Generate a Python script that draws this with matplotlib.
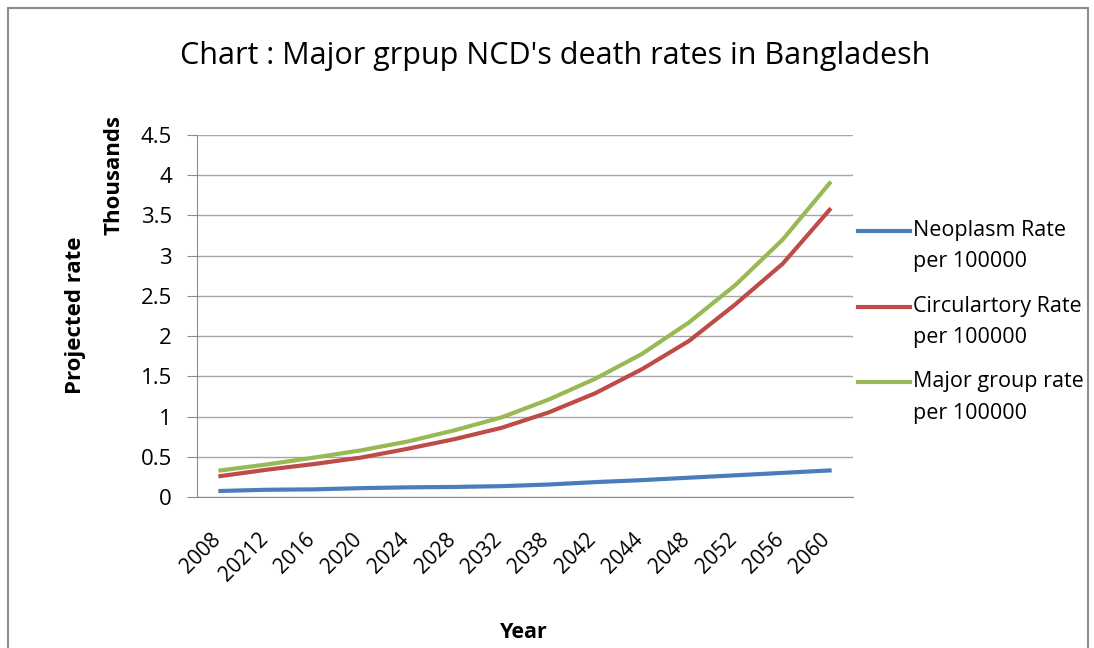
import matplotlib.pyplot as plt
from matplotlib.patches import Rectangle
from matplotlib.lines import Line2D
from matplotlib.transforms import ScaledTranslation

years = ["2008", "20212", "2016", "2020", "2024", "2028", "2032", "2038",
         "2042", "2044", "2048", "2052", "2056", "2060"]
neoplasm = [0.075, 0.09, 0.095, 0.11, 0.12, 0.125, 0.135, 0.155,
            0.185, 0.21, 0.24, 0.27, 0.30, 0.33]
circulatory = [0.26, 0.34, 0.41, 0.49, 0.60, 0.72, 0.86, 1.05,
               1.29, 1.59, 1.94, 2.40, 2.90, 3.57]
major_group = [0.33, 0.405, 0.49, 0.58, 0.69, 0.83, 0.99, 1.21,
               1.47, 1.78, 2.17, 2.64, 3.20, 3.90]
yticks = [0, 0.5, 1, 1.5, 2, 2.5, 3, 3.5, 4, 4.5]
ytick_labels = ["0", "0.5", "1", "1.5", "2", "2.5", "3", "3.5", "4", "4.5"]
series_names = ["Neoplasm Rate\nper 100000", "Circulartory Rate\nper 100000",
                "Major group rate\nper 100000"]
colors = ["#4A7EBB", "#BE4B48", "#98B954"]

plt.rcParams["font.family"] = ["Open Sans", "DejaVu Sans"]

fig = plt.figure(figsize=(10.94, 6.48), dpi=100)
fig.patches.append(Rectangle((8 / 1094, -0.01), 1080 / 1094, 1 - 8 / 648 + 0.01,
                             transform=fig.transFigure, fill=False,
                             edgecolor="#8c8c8c", linewidth=1.5))

ax = fig.add_axes([197 / 1094, 1 - 497 / 648, 656 / 1094, 362 / 648])
x = list(range(len(years)))
for vals, c in zip([neoplasm, circulatory, major_group], colors):
    ax.plot(x, vals, color=c, lw=3)

ax.set_xlim(-0.5, len(years) - 0.5)
ax.set_ylim(0, 4.5)
ax.set_yticks(yticks)
ax.set_yticklabels(ytick_labels, fontsize=16)
ax.set_xticks(x)
ax.set_xticklabels([])
ax.tick_params(axis="x", length=0)
ax.tick_params(axis="y", length=7, color="#8c8c8c", pad=11)
ax.grid(axis="y", color="#a6a6a6", lw=1)
ax.set_axisbelow(True)
for s in ["top", "right"]:
    ax.spines[s].set_visible(False)
for s in ["left", "bottom"]:
    ax.spines[s].set_color("#8c8c8c")

# category labels, top-right corner just under each category
lab_trans = ax.get_xaxis_transform() + ScaledTranslation(0.05, -0.32, fig.dpi_scale_trans)
for xi, lab in zip(x, years):
    ax.text(xi, 0, lab, transform=lab_trans, rotation=45, ha="right", va="top",
            fontsize=15, clip_on=False)

fig.text(555 / 1094, 1 - 56 / 648, "Chart : Major grpup NCD's death rates in Bangladesh",
         ha="center", va="center", fontsize=22)
fig.text(75 / 1094, 1 - 315 / 648, "Projected rate", rotation=90, ha="center",
         va="center", fontsize=16, fontweight="bold")
fig.text(114 / 1094, 1 - 175 / 648, "Thousands", rotation=90, ha="center",
         va="center", fontsize=16, fontweight="bold")
fig.text(524 / 1094, 1 - 632 / 648, "Year", ha="center", va="center",
         fontsize=15.5, fontweight="bold")

# legend, handle level with the first text line
for i, (name, c) in enumerate(zip(series_names, colors)):
    y = 1 - (231 + 75.5 * i) / 648
    fig.add_artist(Line2D([858 / 1094, 910 / 1094], [y, y], color=c, lw=3,
                          transform=fig.transFigure))
    first, second = name.split("\n")
    fig.text(913 / 1094, y, first, ha="left", va="center", fontsize=15.5)
    fig.text(913 / 1094, y - 31 / 648, second, ha="left", va="center", fontsize=15.5)

fig.savefig("out.png", dpi=100)
